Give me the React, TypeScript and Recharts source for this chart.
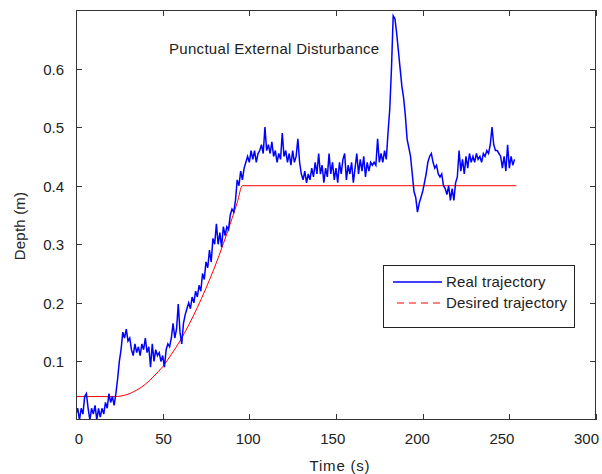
import React from 'react';
import { LineChart, Line, XAxis, YAxis, Legend, Label } from 'recharts';

// Real trajectory: one sample per second, starting at t = 0 s
const realDepth: number[] = [
  0.01, 0.02, 0.0, 0.02, 0.01, 0.04, 0.045, 0.02, 0.0, 0.02,
  0.01, 0.025, 0.0, 0.02, 0.005, 0.02, 0.01, 0.03, 0.02, 0.045,
  0.03, 0.04, 0.025, 0.045, 0.07, 0.1, 0.12, 0.15, 0.14, 0.155,
  0.135, 0.14, 0.12, 0.11, 0.13, 0.115, 0.125, 0.11, 0.13, 0.12,
  0.14, 0.115, 0.125, 0.09, 0.13, 0.1, 0.12, 0.11, 0.115, 0.1,
  0.11, 0.09, 0.12, 0.13, 0.125, 0.14, 0.165, 0.14, 0.155, 0.198,
  0.15, 0.13, 0.165, 0.18, 0.19, 0.2, 0.19, 0.21, 0.2, 0.22,
  0.21, 0.23, 0.22, 0.25, 0.24, 0.27, 0.26, 0.29, 0.27, 0.31,
  0.3, 0.335, 0.3, 0.32, 0.295, 0.33, 0.315, 0.33, 0.325, 0.35,
  0.36, 0.355, 0.375, 0.41, 0.4, 0.425, 0.41, 0.43, 0.44, 0.45,
  0.44, 0.46, 0.445, 0.46, 0.44, 0.455, 0.46, 0.47, 0.455, 0.5,
  0.46, 0.47, 0.455, 0.475, 0.45, 0.46, 0.44, 0.455, 0.445, 0.49,
  0.45, 0.46, 0.44, 0.455, 0.435, 0.46, 0.44, 0.45, 0.48, 0.44,
  0.42, 0.41, 0.425, 0.405, 0.42, 0.41, 0.43, 0.415, 0.44, 0.42,
  0.455, 0.42, 0.435, 0.405, 0.43, 0.415, 0.455, 0.42, 0.44, 0.41,
  0.43, 0.405, 0.44, 0.42, 0.445, 0.455, 0.41, 0.435, 0.42, 0.44,
  0.405, 0.43, 0.455, 0.42, 0.445, 0.425, 0.45, 0.415, 0.44, 0.425,
  0.44, 0.435, 0.44, 0.435, 0.48, 0.44, 0.455, 0.44, 0.46, 0.445,
  0.49, 0.53, 0.6, 0.69, 0.685, 0.66, 0.63, 0.6, 0.57, 0.55,
  0.52, 0.48, 0.465, 0.45, 0.42, 0.39, 0.38, 0.355, 0.37, 0.38,
  0.39, 0.405, 0.42, 0.44, 0.45, 0.455, 0.44, 0.43, 0.435, 0.42,
  0.415, 0.42, 0.4, 0.395, 0.385, 0.4, 0.375, 0.395, 0.375, 0.405,
  0.415, 0.46, 0.425, 0.445, 0.42, 0.45, 0.43, 0.455, 0.44, 0.45,
  0.44, 0.455, 0.445, 0.45, 0.44, 0.455, 0.45, 0.46, 0.455, 0.47,
  0.5, 0.47, 0.46, 0.46, 0.455, 0.45, 0.43, 0.45, 0.425, 0.47,
  0.43, 0.45, 0.435, 0.445,
];

// Desired trajectory
const desiredTime: number[] = [0, 22, 26, 30, 35, 40, 45, 50, 55, 60, 65, 70, 75, 80, 85, 90, 93, 96, 254];
const desiredDepth: number[] = [0.04, 0.04, 0.041, 0.044, 0.051, 0.061, 0.075, 0.091, 0.112, 0.135, 0.162, 0.192, 0.225, 0.261, 0.301, 0.344, 0.371, 0.4, 0.4];

const xDomain: [number, number] = [0, 300];
const yDomain: [number, number] = [0, 0.7];
const xTicks: number[] = [0, 50, 100, 150, 200, 250, 300];
const yTicks: number[] = [0.1, 0.2, 0.3, 0.4, 0.5, 0.6];
const yTickLabels: string[] = ['0.1', '0.2', '0.3', '0.4', '0.5', '0.6'];

const realData = realDepth.map((v, i) => ({ t: i, depth: v }));
const desiredData = desiredTime.map((t, i) => ({ t, depth: desiredDepth[i] }));

const FONT = 'Arial, "Liberation Sans", sans-serif';
const TXT = '#222';
const FRAME = '#333';

const W = 602;
const H = 474;
const MARGIN = { top: 10, right: 6, bottom: 0, left: 0 };
const Y_AXIS_W = 76;
const X_AXIS_H = 54;
const PLOT = {
  left: MARGIN.left + Y_AXIS_W,
  top: MARGIN.top,
  right: W - MARGIN.right,
  bottom: H - MARGIN.bottom - X_AXIS_H,
};

const BottomTick = (props: any) => {
  const { x, y, payload } = props;
  // tick labels in the reference sit on a very slightly compressed scale
  const lx = PLOT.left + 3 + (x - PLOT.left) * 0.976;
  return (
    <text x={lx} y={y + 12} textAnchor="middle" fontSize={15} fontFamily={FONT} fill={TXT}>
      {payload.value}
    </text>
  );
};

const LeftTick = (props: any) => {
  const { x, y, payload } = props;
  const idx = yTicks.indexOf(payload.value);
  return (
    <text x={x} y={y + 6} textAnchor="end" fontSize={15} fontFamily={FONT} fill={TXT}>
      {idx >= 0 ? yTickLabels[idx] : payload.value}
    </text>
  );
};

// Box frame with inward ticks on all four sides (MATLAB style)
const FrameOverlay = () => {
  const pw = PLOT.right - PLOT.left;
  const ph = PLOT.bottom - PLOT.top;
  const xs = xTicks.map((t) => PLOT.left + ((t - xDomain[0]) / (xDomain[1] - xDomain[0])) * pw);
  const ys = yTicks.map((v) => PLOT.bottom - ((v - yDomain[0]) / (yDomain[1] - yDomain[0])) * ph);
  let d = '';
  xs.forEach((px) => {
    const rx = Math.round(px) + 0.5;
    d += `M${rx},${PLOT.top}v6M${rx},${PLOT.bottom}v-6`;
  });
  ys.forEach((py) => {
    const ry = Math.round(py) + 0.5;
    d += `M${PLOT.left},${ry}h6M${PLOT.right},${ry}h-6`;
  });
  return (
    <>
      <div
        style={{
          position: 'absolute',
          left: PLOT.left,
          top: PLOT.top,
          width: pw,
          height: ph,
          boxSizing: 'border-box',
          border: `1px solid ${FRAME}`,
          pointerEvents: 'none',
        }}
      />
      <svg
        width={W}
        height={H}
        style={{ position: 'absolute', left: 0, top: 0, pointerEvents: 'none' }}
      >
        <path d={d} fill="none" stroke={FRAME} strokeWidth={1} />
      </svg>
    </>
  );
};

const renderLegend = () => (
  <svg width={192} height={63} style={{ display: 'block' }}>
    <rect x={0.5} y={0.5} width={191} height={62} fill="#fff" stroke="#222" strokeWidth={1} />
    <line x1={10} x2={59} y1={17} y2={17} stroke="#0000ff" strokeWidth={1.3} />
    <text x={63} y={22} fontSize={15} fontFamily={FONT} fill={TXT} letterSpacing={0.2}>Real trajectory</text>
    <line x1={14} x2={59} y1={38} y2={38} stroke="#ff0000" strokeWidth={1} strokeDasharray="7 5" />
    <text x={63} y={43} fontSize={15} fontFamily={FONT} fill={TXT} letterSpacing={0.2}>Desired trajectory</text>
  </svg>
);

export default function App() {
  return (
    <div style={{ position: 'absolute', left: 0, top: 0, width: W, height: H, background: '#fff' }}>
      <LineChart width={W} height={H} margin={MARGIN}>
        <XAxis
          type="number"
          dataKey="t"
          domain={xDomain}
          ticks={xTicks}
          interval={0}
          height={X_AXIS_H}
          tickSize={0}
          tickMargin={12}
          tickLine={false}
          axisLine={false}
          tick={<BottomTick />}
          allowDataOverflow
        >
          <Label
            content={(p: any) => {
              const vb = p.viewBox;
              return (
                <text x={vb.x + vb.width / 2 + 4} y={vb.y + 51} textAnchor="middle" fontSize={15} fontFamily={FONT} fill={TXT} letterSpacing={0.8}>
                  Time (s)
                </text>
              );
            }}
          />
        </XAxis>
        <YAxis
          type="number"
          domain={yDomain}
          ticks={yTicks}
          interval={0}
          width={Y_AXIS_W}
          tickSize={0}
          tickMargin={12}
          tickLine={false}
          axisLine={false}
          tick={<LeftTick />}
          allowDataOverflow
        >
          <Label
            content={(p: any) => {
              const vb = p.viewBox;
              const cx = 25;
              const cy = vb.y + vb.height / 2 + 11;
              return (
                <g>
                  <text x={cx} y={cy} transform={`rotate(-90 ${cx} ${cy})`} textAnchor="middle" fontSize={15} fontFamily={FONT} fill={TXT} letterSpacing={0.2}>
                    Depth (m)
                  </text>
                  <text x={vb.x + 169} y={vb.y + 44} fontSize={15} fontFamily={FONT} fill={TXT} letterSpacing={0.3}>
                    Punctual External Disturbance
                  </text>
                </g>
              );
            }}
          />
        </YAxis>
        <Legend
          layout="vertical"
          align="center"
          verticalAlign="middle"
          content={renderLegend}
          wrapperStyle={{ position: 'absolute', left: 383, top: 265, width: 192, height: 63 }}
        />
        <Line
          data={desiredData}
          dataKey="depth"
          type="monotone"
          stroke="#ff0000"
          strokeWidth={1}
          dot={false}
          activeDot={false}
          isAnimationActive={false}
        />
        <Line
          data={realData}
          dataKey="depth"
          type="linear"
          stroke="#0000ff"
          strokeWidth={1.5}
          dot={false}
          activeDot={false}
          isAnimationActive={false}
        />
      </LineChart>
      <FrameOverlay />
    </div>
  );
}
